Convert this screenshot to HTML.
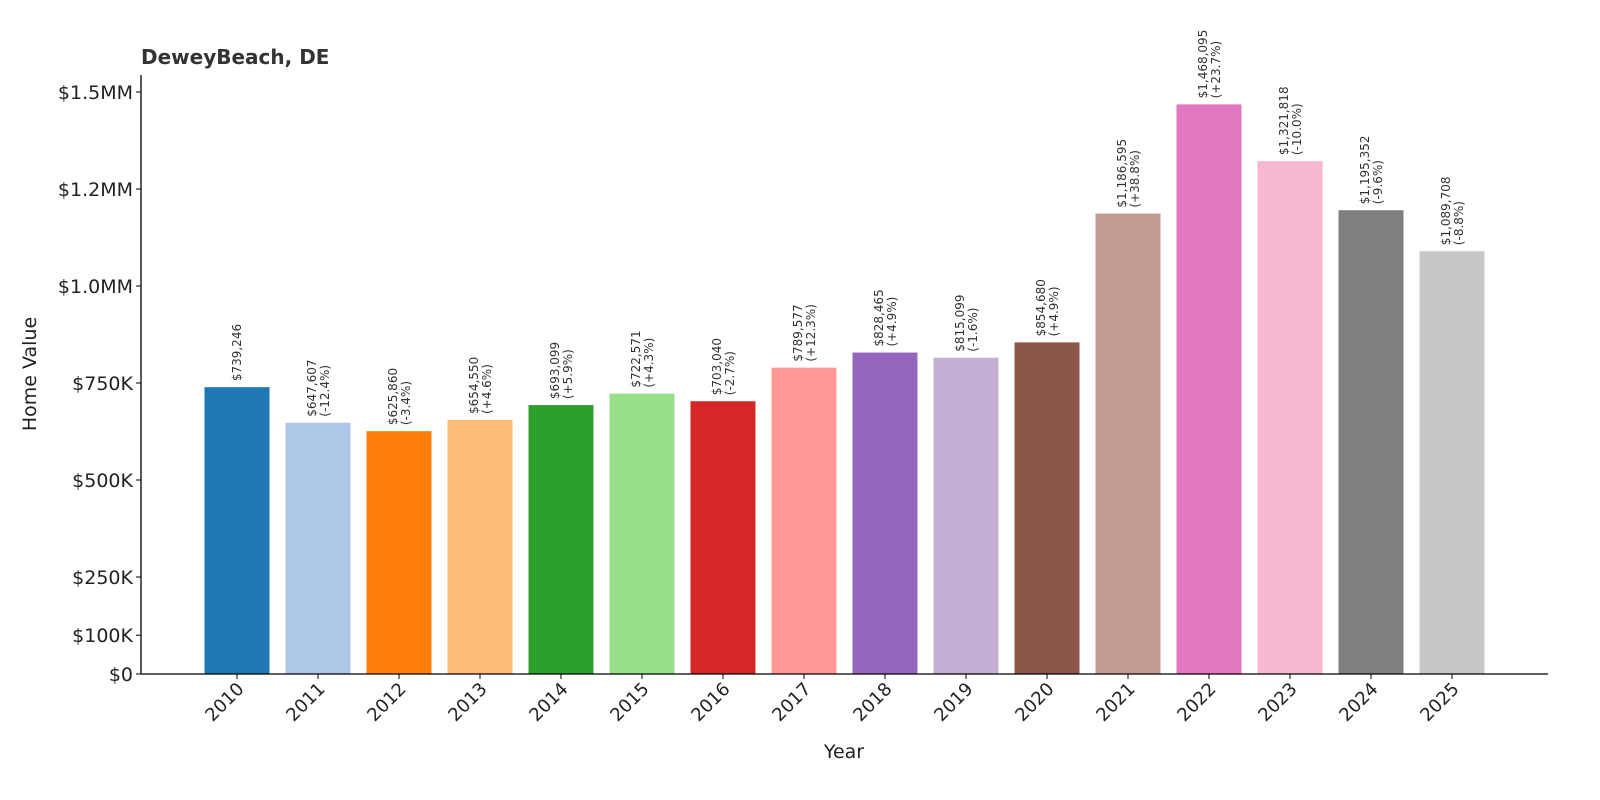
<!DOCTYPE html>
<html><head><meta charset="utf-8"><style>body{margin:0;background:#fff}svg{display:block;font-family:"DejaVu Sans","Liberation Sans",sans-serif}</style></head>
<body>
<svg id="c" width="1600" height="800"></svg>
<script>
const years=["2010","2011","2012","2013","2014","2015","2016","2017","2018","2019","2020","2021","2022","2023","2024","2025"];
const values=[739246,647607,625860,654550,693099,722571,703040,789577,828465,815099,854680,1186595,1468095,1321818,1195352,1089708];
const changes=["","-12.4%","-3.4%","+4.6%","+5.9%","+4.3%","-2.7%","+12.3%","+4.9%","-1.6%","+4.9%","+38.8%","+23.7%","-10.0%","-9.6%","-8.8%"];
const colors=["#1f77b4","#aec7e8","#ff7f0e","#ffbb78","#2ca02c","#98df8a","#d62728","#ff9896","#9467bd","#c5b0d5","#8c564b","#c49c94","#e377c2","#f7b6d2","#7f7f7f","#c7c7c7"];
const tickVals=[0,100000,250000,500000,750000,1000000,1250000,1500000];
const tickLabels=["$0","$100K","$250K","$500K","$750K","$1.0MM","$1.2MM","$1.5MM"];
const NS="http://www.w3.org/2000/svg",svg=document.getElementById('c');
const y=v=>674-v*388/1e6, x=i=>237+i*81;
function mk(t,a,txt){const e=document.createElementNS(NS,t);for(const k in a)e.setAttribute(k,a[k]);if(txt!==undefined)e.textContent=txt;svg.appendChild(e);return e;}
let e=mk('text',{x:141,y:64,'font-size':20,'font-weight':'bold',fill:'#333'},'DeweyBeach, DE');

values.forEach((v,i)=>{
 let b=mk('rect',{x:x(i)-32.5,y:y(v),width:65,height:674-y(v),fill:colors[i]});
 
 const val='$'+v.toLocaleString('en-US');
 const yt=y(v)-6;
 if(changes[i]){
  let t=mk('text',{x:0,y:0,'font-size':12,fill:'#333',transform:`translate(${x(i)-2},${yt}) rotate(-90)`});
  let s1=document.createElementNS(NS,'tspan');s1.setAttribute('x',0);s1.textContent=val;t.appendChild(s1);
  let s2=document.createElementNS(NS,'tspan');s2.setAttribute('x',0);s2.setAttribute('dy',13);s2.textContent='('+changes[i]+')';t.appendChild(s2);
  
 }else{
  let t=mk('text',{x:0,y:0,'font-size':12,fill:'#333',transform:`translate(${x(i)+4},${yt}) rotate(-90)`},val);
  
 }
 mk('line',{x1:x(i),x2:x(i),y1:674,y2:679,stroke:'#000'});
 let xl=mk('text',{x:0,y:0,'font-size':18,fill:'#222','text-anchor':'end',transform:`translate(${x(i)+8},${690}) rotate(-45)`},years[i]);
 
});
tickVals.forEach((v,i)=>{
 mk('line',{x1:136,x2:141,y1:y(v),y2:y(v),stroke:'#000'});
 let t=mk('text',{x:133,y:y(v)+7,'font-size':19,fill:'#222','text-anchor':'end'},tickLabels[i]);
 
});
e=mk('line',{x1:141,x2:141,y1:75,y2:674,stroke:'#000','stroke-width':1.3});
e=mk('line',{x1:141,x2:1548,y1:674,y2:674,stroke:'#000','stroke-width':1.3});
e=mk('text',{x:844,y:758,'font-size':19,fill:'#222','text-anchor':'middle'},'Year');
e=mk('text',{x:0,y:0,'font-size':19,fill:'#222','text-anchor':'middle',transform:'translate(36,374) rotate(-90)'},'Home Value');
</script>
</body></html>
